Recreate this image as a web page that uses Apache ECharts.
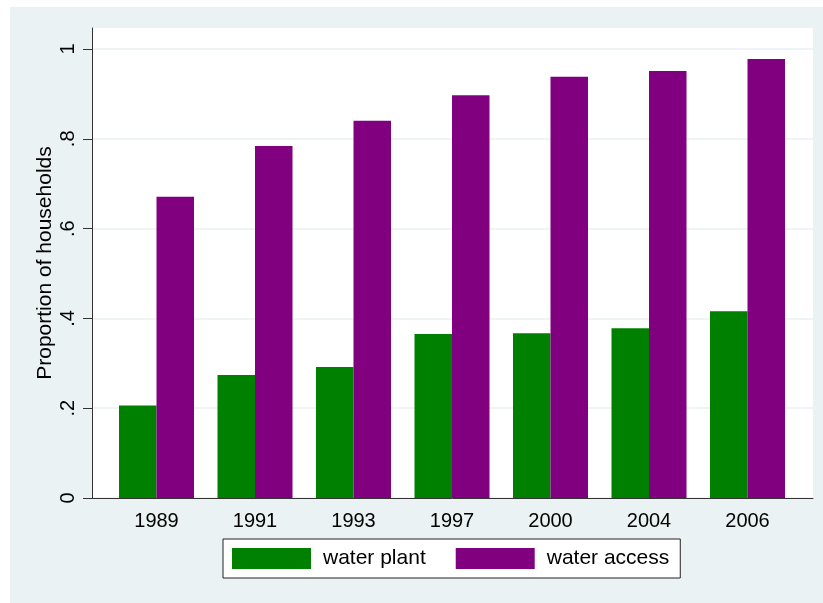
<!DOCTYPE html>
<html>
<head>
<meta charset="utf-8">
<script src="https://cdn.jsdelivr.net/npm/echarts@6/dist/echarts.min.js"></script>
<style>
  html, body { margin: 0; padding: 0; background: #ffffff; }
  #chart { position: absolute; left: 10px; top: 7px; width: 813px; height: 596px; }
</style>
</head>
<body>
<div id="chart"></div>
<script>
// Survey years
const years = ['1989', '1991', '1993', '1997', '2000', '2004', '2006'];
// Share of households with a water plant / with water access
const waterPlant = [0.206, 0.274, 0.292, 0.365, 0.367, 0.378, 0.416];
const waterAccess = [0.671, 0.784, 0.840, 0.897, 0.938, 0.951, 0.978];
// Y-axis ticks and their printed labels
const yTicks = [0, 0.2, 0.4, 0.6, 0.8, 1];
const yTickLabels = ['0', '.2', '.4', '.6', '.8', '1'];

const FONT = "'Liberation Sans', Arial, sans-serif";
const BG = '#EAF2F3';
const AXIS = '#333333';

const chart = echarts.init(document.getElementById('chart'), null, { renderer: 'canvas' });

chart.setOption({
  backgroundColor: BG,
  animation: false,
  textStyle: { fontFamily: FONT },
  grid: [
    // white plot region with the axis lines
    { left: 82, top: 21, width: 721, height: 470, show: true, backgroundColor: '#ffffff', borderWidth: 0, containLabel: false },
    // value scale: ticks, labels, grid lines
    { left: 82, top: 42, width: 721, height: 449, containLabel: false },
    // bars
    { left: 97.25, top: 42, width: 689.5, height: 449, containLabel: false }
  ],
  xAxis: [
    { gridIndex: 0, type: 'value', min: 0, max: 1,
      axisLine: { show: true, lineStyle: { color: AXIS, width: 1 } },
      axisTick: { show: false }, axisLabel: { show: false }, splitLine: { show: false } },
    { gridIndex: 1, type: 'value', show: false },
    { gridIndex: 2, type: 'category', data: years,
      axisLine: { show: false }, axisTick: { show: false }, splitLine: { show: false },
      axisLabel: { color: '#000', fontSize: 20, fontFamily: FONT, margin: 13 } }
  ],
  yAxis: [
    { gridIndex: 0, type: 'value', min: 0, max: 1,
      name: 'Proportion of households', nameLocation: 'middle', nameRotate: 90, nameGap: 36,
      nameTextStyle: { color: '#000', fontSize: 21, fontFamily: FONT },
      axisLine: { show: true, lineStyle: { color: AXIS, width: 1 } },
      axisTick: { show: false }, axisLabel: { show: false }, splitLine: { show: false } },
    { gridIndex: 1, type: 'value', min: yTicks[0], max: yTicks[yTicks.length - 1], interval: 0.2,
      axisLine: { show: false },
      axisTick: { show: true, length: 9, lineStyle: { color: AXIS, width: 1 } },
      axisLabel: {
        color: '#000', fontSize: 20, fontFamily: FONT, rotate: 90, margin: 14,
        formatter: function (v) {
          const i = yTicks.findIndex(t => Math.abs(t - v) < 1e-9);
          return i >= 0 ? yTickLabels[i] : '';
        }
      },
      splitLine: { show: true, lineStyle: { color: BG, width: 1.5 } } },
    { gridIndex: 2, type: 'value', min: 0, max: 1, show: false }
  ],
  legend: {
    left: 213, top: 532,
    orient: 'horizontal',
    padding: [9, 11, 9, 9],
    backgroundColor: '#ffffff',
    borderColor: '#222222', borderWidth: 1, borderRadius: 0,
    icon: 'rect', itemWidth: 79, itemHeight: 21, itemGap: 30,
    textStyle: { color: '#000', fontSize: 21, fontFamily: FONT, padding: [0, 0, 0, 7] },
    data: ['water plant', 'water access']
  },
  series: [
    { name: 'water plant', type: 'bar', xAxisIndex: 2, yAxisIndex: 2, data: waterPlant,
      barWidth: 37.5, barGap: '0%', itemStyle: { color: '#008000' } },
    { name: 'water access', type: 'bar', xAxisIndex: 2, yAxisIndex: 2, data: waterAccess,
      barWidth: 37.5, barGap: '0%', itemStyle: { color: '#800080' } }
  ]
});
</script>
</body>
</html>
